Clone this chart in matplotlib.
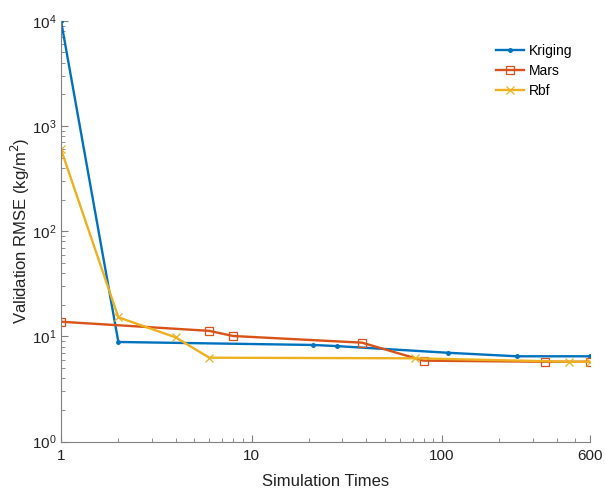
import matplotlib
matplotlib.use("Agg")
import matplotlib.pyplot as plt
from matplotlib.ticker import LogLocator, FixedLocator, FixedFormatter, NullFormatter

plt.rcParams["font.family"] = ["Liberation Sans", "DejaVu Sans"]

# values (log-log)
kriging_x = [1, 2, 21, 28, 107, 247, 600]
kriging_y = [10000, 8.86, 8.3, 8.1, 7.0, 6.48, 6.48]

mars_x = [1, 6, 8, 38, 80, 345, 600]
mars_y = [13.8, 11.3, 10.1, 8.73, 5.89, 5.75, 5.75]

rbf_x = [1, 2, 4, 6, 72, 463, 600]
rbf_y = [600, 15.2, 9.8, 6.28, 6.2, 5.75, 5.75]

x_ticks = [1, 10, 100, 600]
x_tick_labels = ["1", "10", "100", "600"]

BLUE = "#0072BD"
ORANGE = "#D95319"
YELLOW = "#EDB120"

fig = plt.figure(figsize=(6.05, 4.92), dpi=100)
ax = fig.add_axes([61 / 605, 1 - 441.7 / 492, (590.3 - 61) / 605, (441.7 - 20.7) / 492])

ax.plot(kriging_x, kriging_y, color=BLUE, lw=1.7, marker="o", ms=2.5, label="Kriging")
ax.plot(mars_x, mars_y, color=ORANGE, lw=1.7, marker="s", ms=6, mfc="none",
        mec=ORANGE, mew=0.9, label="Mars")
ax.plot(rbf_x, rbf_y, color=YELLOW, lw=1.7, marker="x", ms=6, mew=0.9, label="Rbf")

ax.set_xscale("log")
ax.set_yscale("log")
ax.set_xlim(1, 600)
ax.set_ylim(1, 1e4)

ax.xaxis.set_major_locator(FixedLocator(x_ticks))
ax.xaxis.set_major_formatter(FixedFormatter(x_tick_labels))
ax.xaxis.set_minor_locator(LogLocator(base=10, subs=range(2, 10), numticks=20))
ax.xaxis.set_minor_formatter(NullFormatter())
ax.yaxis.set_major_locator(LogLocator(base=10, numticks=10))
ax.yaxis.set_minor_locator(LogLocator(base=10, subs=range(2, 10), numticks=20))

for side in ["top", "right"]:
    ax.spines[side].set_visible(False)
for side in ["left", "bottom"]:
    ax.spines[side].set_color("#808080")
    ax.spines[side].set_linewidth(0.8)

ax.tick_params(which="both", direction="in", color="#808080", labelsize=11,
               labelcolor="#222222")
ax.tick_params(which="major", length=5, width=0.8)
ax.tick_params(which="minor", length=3, width=0.6)
ax.tick_params(axis="x", which="major", pad=5)
ax.tick_params(axis="y", which="major", pad=3)

ax.set_xlabel("Simulation Times", fontsize=12, color="#222222", labelpad=8)
ax.set_ylabel("Validation RMSE (kg/m$^2$)", fontsize=12, color="#222222")
ax.yaxis.set_label_coords(-0.054, 0.5)

ax.legend(loc="upper right", frameon=False, fontsize=10, handlelength=2.0,
          handletextpad=0.35, labelspacing=0.45, bbox_to_anchor=(0.99, 0.975))

fig.savefig("out.png", dpi=100)
